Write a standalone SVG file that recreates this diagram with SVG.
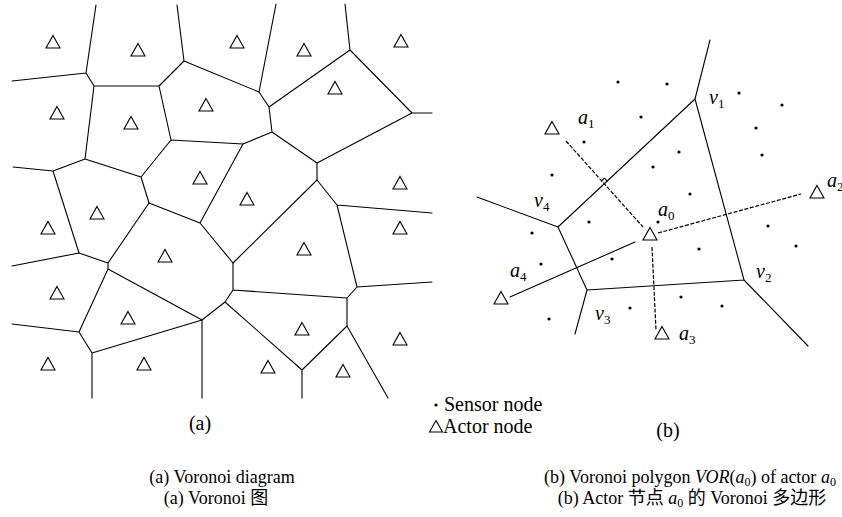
<svg xmlns="http://www.w3.org/2000/svg" xmlns:xlink="http://www.w3.org/1999/xlink" width="842" height="517" viewBox="0 0 842 517">
<style>
.e{stroke:#000;stroke-width:1.1;fill:none;stroke-linecap:round;stroke-linejoin:round}
.d{stroke:#000;stroke-width:1.2;fill:none;stroke-dasharray:4,1.6}
.t{fill:#fff;stroke:#000;stroke-width:1.1}
.s{fill:#000}
.txt{font-family:"Liberation Serif","Noto Sans CJK SC",serif;font-size:20px;fill:#000}
.cap{font-family:"Liberation Serif","Noto Sans CJK SC",serif;font-size:18px;fill:#000}
.lab{font-family:"Liberation Serif",serif;font-size:20px;font-style:italic;fill:#000}
.sub{font-size:13px;font-style:normal}
</style>
<defs>
<polygon id="tri" class="t" points="0,-6.5 7,6 -7,6"/>
</defs>
<rect width="842" height="517" fill="#fff"/>

<!-- (a) Voronoi diagram edges -->
<g id="voronoi-edges" class="e">
<path d="M96,5 L86,73 M12,81 L86,73 L94,86 L159,86 L184,61 L177,5 M184,61 L259,92 M159,86 L171,140 L243,144 M171,140 L141,177 L85,159 L94,86 M85,159 L53,171 L13,167 M53,171 L79,253 M141,177 L149,203"/>
<path d="M276,4 L259,92 L269,107 L350,50 L345,4 M350,50 L412,113 L432,113 M269,107 L272,132 L243,144 L200,223 M149,203 L200,223 L233,263 L317,180 L317,163 M272,132 L317,163 L412,113"/>
<path d="M317,180 L337,205 L432,213 M337,205 L357,287 L432,282 M357,287 L347,298 L233,290 L233,263 M347,298 L347,326 L302,370 L302,398 M347,326 L388,398 M302,370 L225,302 L233,290 M225,302 L202,320 L202,398"/>
<path d="M12,266 L79,253 L108,263 L108,269 L202,320 M108,263 L149,203 M108,269 L79,332 L12,324 M79,332 L92,353 L92,398 M92,353 L202,320"/>
</g>

<!-- (a) actor nodes -->
<g id="actors-a">
<g id="na1"><use xlink:href="#tri" x="53" y="42"/></g>
<g id="na2"><use xlink:href="#tri" x="138" y="50"/></g>
<g id="na3"><use xlink:href="#tri" x="237" y="42"/></g>
<g id="na4"><use xlink:href="#tri" x="304" y="50"/></g>
<g id="na5"><use xlink:href="#tri" x="401" y="41"/></g>
<g id="na6"><use xlink:href="#tri" x="206" y="105"/></g>
<g id="na7"><use xlink:href="#tri" x="57" y="113"/></g>
<g id="na8"><use xlink:href="#tri" x="131" y="123"/></g>
<g id="na9"><use xlink:href="#tri" x="335" y="88"/></g>
<g id="na10"><use xlink:href="#tri" x="200" y="178"/></g>
<g id="na11"><use xlink:href="#tri" x="400" y="183"/></g>
<g id="na12"><use xlink:href="#tri" x="97" y="213"/></g>
<g id="na13"><use xlink:href="#tri" x="48" y="228"/></g>
<g id="na14"><use xlink:href="#tri" x="247" y="199"/></g>
<g id="na15"><use xlink:href="#tri" x="304" y="249"/></g>
<g id="na16"><use xlink:href="#tri" x="400" y="228"/></g>
<g id="na17"><use xlink:href="#tri" x="165" y="256"/></g>
<g id="na18"><use xlink:href="#tri" x="57" y="293"/></g>
<g id="na19"><use xlink:href="#tri" x="128" y="318"/></g>
<g id="na20"><use xlink:href="#tri" x="302" y="329"/></g>
<g id="na21"><use xlink:href="#tri" x="400" y="339"/></g>
<g id="na22"><use xlink:href="#tri" x="48" y="364"/></g>
<g id="na23"><use xlink:href="#tri" x="144" y="364"/></g>
<g id="na24"><use xlink:href="#tri" x="268" y="367"/></g>
<g id="na25"><use xlink:href="#tri" x="343" y="371"/></g>
</g>

<!-- (b) connectors -->
<g id="connectors-b">
<path class="e" d="M695,99 L744,280 L587,290 L558,227 Z M695,99 L710,40 M558,227 L477,197 M587,290 L575,334 M744,280 L808,346"/>
<path class="e" d="M510,297 L635,242"/>
<path class="d" d="M566,141 L643,227"/>
<path class="d" d="M658,233 L801,194"/>
<path class="d" d="M652,247 L656,330"/>
<polyline class="e" stroke-width="0.9" points="607.2,181.1 604.5,178.1 601.6,180.8"/>
</g>

<!-- (b) sensor nodes -->
<g id="sensors" class="s">
<circle cx="618" cy="82" r="1.6"/><circle cx="641" cy="117" r="1.6"/><circle cx="584" cy="142" r="1.6"/>
<circle cx="653" cy="167" r="1.6"/><circle cx="552" cy="175" r="1.6"/><circle cx="667" cy="84" r="1.6"/>
<circle cx="739" cy="93" r="1.6"/><circle cx="782" cy="105" r="1.6"/><circle cx="756" cy="128" r="1.6"/>
<circle cx="679" cy="152" r="1.6"/><circle cx="762" cy="155" r="1.6"/><circle cx="690" cy="194" r="1.6"/>
<circle cx="589" cy="222" r="1.6"/><circle cx="532" cy="233" r="1.6"/><circle cx="541" cy="264" r="1.6"/>
<circle cx="612" cy="259" r="1.6"/><circle cx="630" cy="308" r="1.6"/><circle cx="549" cy="319" r="1.6"/>
<circle cx="658" cy="222" r="1.6"/><circle cx="768" cy="226" r="1.6"/><circle cx="796" cy="246" r="1.6"/>
<circle cx="699" cy="249" r="1.6"/><circle cx="681" cy="297" r="1.6"/><circle cx="722" cy="306" r="1.6"/>
</g>

<!-- (b) actor nodes -->
<g id="actor-a0"><use xlink:href="#tri" x="650" y="234"/><text class="lab" x="658" y="216">a<tspan class="sub" dy="4">0</tspan></text></g>
<g id="actor-a1"><use xlink:href="#tri" x="552" y="128"/><text class="lab" x="578" y="124">a<tspan class="sub" dy="4">1</tspan></text></g>
<g id="actor-a2"><use xlink:href="#tri" x="817" y="192"/><text class="lab" x="827" y="187">a<tspan class="sub" dy="4">2</tspan></text></g>
<g id="actor-a3"><use xlink:href="#tri" x="662" y="333"/><text class="lab" x="679" y="340">a<tspan class="sub" dy="4">3</tspan></text></g>
<g id="actor-a4"><use xlink:href="#tri" x="501" y="298"/><text class="lab" x="510" y="277">a<tspan class="sub" dy="4">4</tspan></text></g>

<!-- vertex labels -->
<g id="vertex-labels">
<text class="lab" x="709" y="104">v<tspan class="sub" dy="4">1</tspan></text>
<text class="lab" x="756" y="278">v<tspan class="sub" dy="4">2</tspan></text>
<text class="lab" x="595" y="320">v<tspan class="sub" dy="4">3</tspan></text>
<text class="lab" x="534" y="207">v<tspan class="sub" dy="4">4</tspan></text>
</g>

<!-- legend -->
<g id="legend">
<circle cx="436" cy="405" r="1.6" fill="#000"/>
<text class="txt" x="444" y="411">Sensor node</text>
<polygon class="t" points="436,420.5 442.5,432 429.5,432"/>
<text class="txt" x="443" y="433">Actor node</text>
</g>

<!-- captions -->
<g id="captions">
<text class="txt" x="200" y="430" text-anchor="middle">(a)</text>
<text class="txt" x="668" y="437" text-anchor="middle">(b)</text>
<text class="cap" x="222" y="483" text-anchor="middle">(a) Voronoi diagram</text>
<text class="cap" x="216" y="504" text-anchor="middle">(a) Voronoi 图</text>
<text class="cap" x="690" y="483" text-anchor="middle">(b) Voronoi polygon <tspan font-style="italic">VOR</tspan>(<tspan font-style="italic">a</tspan><tspan font-size="12" dy="3">0</tspan><tspan dy="-3">) of actor </tspan><tspan font-style="italic">a</tspan><tspan font-size="12" dy="3">0</tspan></text>
<text class="cap" x="692" y="504" text-anchor="middle">(b) Actor 节点 <tspan font-style="italic">a</tspan><tspan font-size="12" dy="3">0</tspan><tspan dy="-3"> 的 Voronoi 多边形</tspan></text>
</g>
</svg>
